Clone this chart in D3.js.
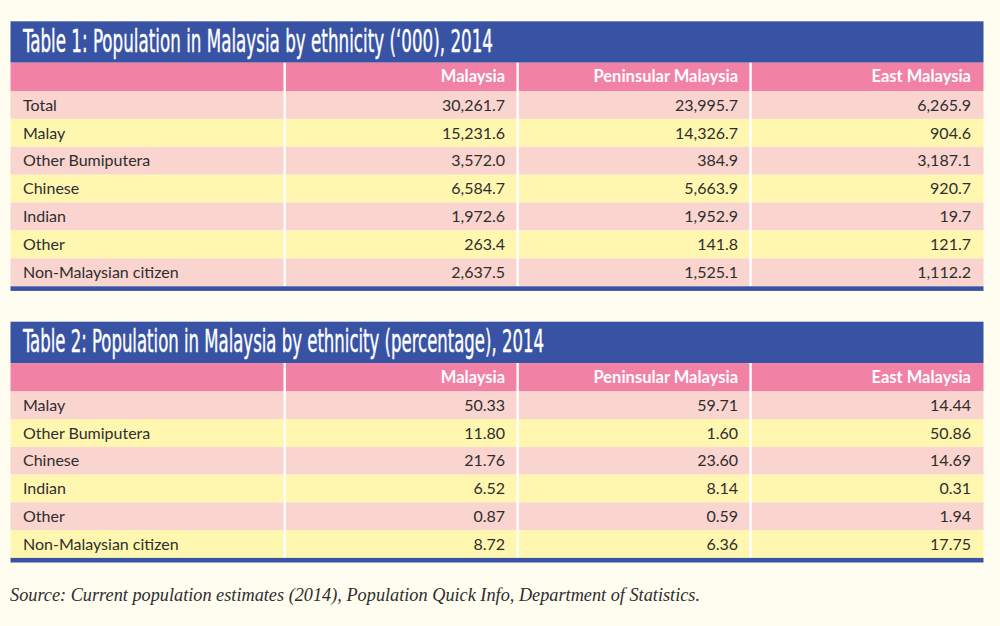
<!DOCTYPE html>
<html>
<head>
<meta charset="utf-8">
<script src="https://cdn.jsdelivr.net/npm/d3@7"></script>
<style>
  html, body { margin: 0; padding: 0; background: #fffdf0; }
  svg { display: block; }
</style>
</head>
<body>
<svg id="chart" width="1000" height="626"></svg>
<script>
// ---------- data ----------
const columns = ["Malaysia", "Peninsular Malaysia", "East Malaysia"];

const title1 = "Table 1: Population in Malaysia by ethnicity (\u2018000), 2014";
const categories1 = ["Total", "Malay", "Other Bumiputera", "Chinese", "Indian", "Other", "Non-Malaysian citizen"];
const malaysia1   = [30261.7, 15231.6, 3572.0, 6584.7, 1972.6, 263.4, 2637.5];
const peninsular1 = [23995.7, 14326.7, 384.9, 5663.9, 1952.9, 141.8, 1525.1];
const east1       = [6265.9, 904.6, 3187.1, 920.7, 19.7, 121.7, 1112.2];

const title2 = "Table 2: Population in Malaysia by ethnicity (percentage), 2014";
const categories2 = ["Malay", "Other Bumiputera", "Chinese", "Indian", "Other", "Non-Malaysian citizen"];
const malaysia2   = [50.33, 11.80, 21.76, 6.52, 0.87, 8.72];
const peninsular2 = [59.71, 1.60, 23.60, 8.14, 0.59, 6.36];
const east2       = [14.44, 50.86, 14.69, 0.31, 1.94, 17.75];

const sourceText = "Source: Current population estimates (2014), Population Quick Info, Department of Statistics.";

// ---------- style ----------
const C = {
  bg: "#fffdf0",
  blue: "#3953a4",
  header: "#f281a6",
  pink: "#fad4cf",
  yellow: "#fff7b0",
  text: "#2e2e2e"
};
const titleFont = "'Liberation Sans Narrow', 'DejaVu Sans Condensed', 'Roboto Condensed', sans-serif";
const bodyFont = "Lato, 'Open Sans', sans-serif";

const svg = d3.select("#chart");
svg.append("rect").attr("width", 1000).attr("height", 626).attr("fill", C.bg);

const left = 10.5, right = 983.5, labelColRight = 284.7;
const xCol = d3.scaleBand().domain(columns).range([labelColRight, right]).padding(0);

function drawTable(top, title, cats, series, fmt, titleLen, rowH) {
  const g = svg.append("g");
  const titleH = 41.4, headerH = 28.3;
  const rowsTop = top + titleH + headerH;
  const y = d3.scaleBand().domain(cats).range([rowsTop, rowsTop + rowH * cats.length]).padding(0);
  const bottom = rowsTop + rowH * cats.length;

  // title bar
  g.append("rect").attr("x", left).attr("y", top).attr("width", right - left).attr("height", titleH).attr("fill", C.blue);
  g.append("text").attr("x", 23).attr("y", top + 30.3)
    .attr("font-family", titleFont).attr("font-size", 32.5).attr("fill", "#ffffff")
    .attr("stroke", "#ffffff").attr("stroke-width", 0.4)
    .attr("textLength", titleLen).attr("lengthAdjust", "spacingAndGlyphs")
    .text(title);

  // header
  g.append("rect").attr("x", left).attr("y", top + titleH).attr("width", right - left).attr("height", headerH).attr("fill", C.header);
  g.selectAll("text.hdr").data(columns).join("text").attr("class", "hdr")
    .attr("x", d => xCol(d) + xCol.bandwidth() - 12.5)
    .attr("y", top + titleH + headerH / 2 + 5.5)
    .attr("text-anchor", "end")
    .attr("font-family", bodyFont).attr("font-weight", 700).attr("font-size", 16.5)
    .attr("fill", "#ffffff")
    .text(d => d);

  // rows
  g.selectAll("rect.row").data(cats).join("rect").attr("class", "row")
    .attr("x", left).attr("y", d => y(d)).attr("width", right - left).attr("height", y.bandwidth())
    .attr("fill", (d, i) => i % 2 === 0 ? C.pink : C.yellow);

  g.selectAll("text.cat").data(cats).join("text").attr("class", "cat")
    .attr("x", 23).attr("y", d => y(d) + y.bandwidth() / 2 + 5.7)
    .attr("font-family", bodyFont).attr("font-size", 16).attr("fill", C.text)
    .text(d => d);

  columns.forEach((col, ci) => {
    g.selectAll("text.v" + ci).data(series[ci]).join("text").attr("class", "v" + ci)
      .attr("x", xCol(col) + xCol.bandwidth() - 12.5)
      .attr("y", (d, i) => y(cats[i]) + y.bandwidth() / 2 + 5.7)
      .attr("text-anchor", "end")
      .attr("font-family", bodyFont).attr("font-size", 16).attr("fill", C.text)
      .text(d => fmt(d));
  });

  // white dividers
  const dividers = [labelColRight].concat(columns.slice(1).map(c => xCol(c)));
  g.selectAll("rect.div").data(dividers).join("rect").attr("class", "div")
    .attr("x", d => d - 1.2).attr("y", top + titleH).attr("width", 2.4).attr("height", bottom - top - titleH)
    .attr("fill", "#ffffff");

  // bottom blue rule
  g.append("rect").attr("x", left).attr("y", bottom).attr("width", right - left).attr("height", 4.6).attr("fill", C.blue);
}

drawTable(21.3, title1, categories1, [malaysia1, peninsular1, east1], d3.format(",.1f"), 470, 27.9);
drawTable(321.7, title2, categories2, [malaysia2, peninsular2, east2], d3.format(".2f"), 521, 27.75);

svg.append("text").attr("x", 10).attr("y", 601)
  .attr("font-family", "'Liberation Serif', 'DejaVu Serif', serif").attr("font-style", "italic")
  .attr("font-size", 18).attr("fill", "#2e2e2e")
  .attr("textLength", 690).attr("lengthAdjust", "spacingAndGlyphs")
  .text(sourceText);
</script>
</body>
</html>
